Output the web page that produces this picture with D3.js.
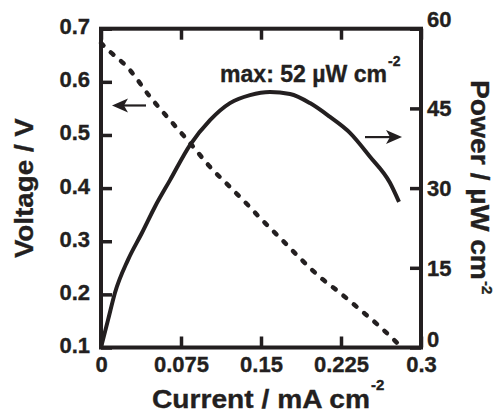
<!DOCTYPE html>
<html>
<head>
<meta charset="utf-8">
<script src="https://cdn.jsdelivr.net/npm/d3@7"></script>
<style>
  body { margin: 0; background: #fff; }
  text { font-family: "Liberation Sans", Arial, Helvetica, sans-serif; font-weight: bold; fill: #231f20; stroke: #231f20; stroke-width: 0.35px; }
</style>
</head>
<body>
<div id="chart"></div>
<script>
// current density (mA cm-2) vs cell voltage (V), dashed curve
const voltCurrent = [0, 0.0019, 0.0272, 0.0459, 0.0647, 0.0834, 0.1022, 0.1209, 0.1397, 0.149, 0.168, 0.1866, 0.205, 0.224, 0.243, 0.2616, 0.278];
const voltValues  = [0.673, 0.669, 0.622, 0.572, 0.528, 0.485, 0.440, 0.402, 0.364, 0.344, 0.306, 0.268, 0.233, 0.203, 0.171, 0.139, 0.108];

// current density vs power density (uW cm-2), solid curve
const powCurrent = [0, 0.0066, 0.0131, 0.0253, 0.0382, 0.0506, 0.0647, 0.0834, 0.1022, 0.1209, 0.1397, 0.1584, 0.1772, 0.1959, 0.2147, 0.2334, 0.2522, 0.2709, 0.2794];
const powValues  = [0, 5.2, 10.3, 16.5, 21.5, 26.5, 31.5, 38.1, 42.8, 46.0, 47.5, 48.1, 47.7, 46.0, 43.4, 40.4, 35.9, 31.0, 27.4];

const xTicks = [0, 0.075, 0.15, 0.225, 0.3];
const xTickLabels = ["0", "0.075", "0.15", "0.225", "0.3"];
const yLeftTicks = [0.1, 0.2, 0.3, 0.4, 0.5, 0.6, 0.7];
const yRightTicks = [0, 15, 30, 45, 60];

const W = 502, H = 413;
const margin = { top: 28.7, right: 81, bottom: 65.5, left: 101 };
const w = W - margin.left - margin.right;
const h = H - margin.top - margin.bottom;
const ink = "#231f20";

const svg = d3.select("#chart").append("svg")
  .attr("width", W).attr("height", H);

const g = svg.append("g")
  .attr("transform", `translate(${margin.left},${margin.top})`);

const x = d3.scaleLinear().domain([0, 0.3]).range([0, w]);
const yL = d3.scaleLinear().domain([0.1, 0.7]).range([h, 0]);
const yR = d3.scaleLinear().domain([0, 60]).range([h, 0]);

const tickLen = 11;

// axes (ticks pointing inward)
const styleAxis = sel => {
  sel.select(".domain").remove();
  sel.selectAll(".tick line").attr("stroke", ink).attr("stroke-width", 3.5);
  sel.selectAll(".tick text").attr("font-size", 22).attr("fill", ink);
};

g.append("g")
  .attr("transform", `translate(0,${h})`)
  .call(d3.axisBottom(x).tickValues(xTicks).tickFormat((d, i) => xTickLabels[i])
    .tickSize(-tickLen).tickSizeOuter(0))
  .call(styleAxis)
  .call(s => s.selectAll(".tick text").attr("y", 24.5).attr("dy", 0));

g.append("g")
  .call(d3.axisTop(x).tickValues(xTicks).tickFormat("").tickSize(-tickLen).tickSizeOuter(0))
  .call(styleAxis);

g.append("g")
  .call(d3.axisLeft(yL).tickValues(yLeftTicks).tickFormat(d3.format(".1f"))
    .tickSize(-tickLen).tickSizeOuter(0).tickPadding(11))
  .call(styleAxis)
  .call(s => s.selectAll(".tick text").attr("dy", 5));

g.append("g")
  .attr("transform", `translate(${w},0)`)
  .call(d3.axisRight(yR).tickValues(yRightTicks).tickFormat(d3.format("d"))
    .tickSize(-tickLen).tickSizeOuter(0).tickPadding(6))
  .call(styleAxis)
  .call(s => s.selectAll(".tick text").attr("dy", d => d === 60 ? -2 : d === 0 ? -1 : 7.5));

// frame
g.append("rect")
  .attr("width", w).attr("height", h)
  .attr("fill", "none").attr("stroke", ink).attr("stroke-width", 4);

// curves
const voltLine = d3.line()
  .x((d, i) => x(voltCurrent[i]))
  .y(d => yL(d))
  .curve(d3.curveMonotoneX);

const powLine = d3.line()
  .x((d, i) => x(powCurrent[i]))
  .y(d => yR(d))
  .curve(d3.curveMonotoneX);

g.append("path")
  .attr("d", powLine(powValues))
  .attr("fill", "none").attr("stroke", ink).attr("stroke-width", 4);

g.append("path")
  .attr("d", voltLine(voltValues))
  .attr("fill", "none").attr("stroke", ink).attr("stroke-width", 4.5)
  .attr("stroke-linecap", "round")
  .attr("stroke-dasharray", "3.5,10");

// arrows: tail x, tip x (in data units) and height on the matching axis
function arrow(x0, x1, yy) {
  const dir = Math.sign(x1 - x0);
  const back = x1 - dir * 16;
  const notch = x1 - dir * 12;
  g.append("line")
    .attr("x1", x0).attr("x2", notch).attr("y1", yy).attr("y2", yy)
    .attr("stroke", ink).attr("stroke-width", 2.2);
  g.append("path")
    .attr("d", `M${x1},${yy} L${back},${yy - 7} L${notch},${yy} L${back},${yy + 7} Z`)
    .attr("fill", ink);
}
arrow(x(0.0422), x(0.0103), yL(0.5555));
arrow(x(0.2475), x(0.2822), yR(39.6));

// annotation
g.append("text")
  .attr("x", 119).attr("y", 53.3).attr("font-size", 23)
  .attr("textLength", 167).attr("lengthAdjust", "spacingAndGlyphs")
  .text("max: 52 \u00b5W cm");
g.append("text")
  .attr("x", 119 + 168).attr("y", 37).attr("font-size", 14)
  .text("-2");

// axis titles
svg.append("text")
  .attr("x", 152).attr("y", 408).attr("font-size", 26)
  .attr("textLength", 218).attr("lengthAdjust", "spacingAndGlyphs")
  .text("Current / mA cm");
svg.append("text")
  .attr("x", 371).attr("y", 390).attr("font-size", 15)
  .text("-2");

svg.append("text")
  .attr("transform", `translate(33,${margin.top + h / 2}) rotate(-90)`)
  .attr("text-anchor", "middle").attr("font-size", 26)
  .attr("textLength", 140).attr("lengthAdjust", "spacingAndGlyphs")
  .text("Voltage / V");

svg.append("text")
  .attr("transform", "translate(471,80) rotate(90)")
  .attr("font-size", 26)
  .attr("textLength", 200).attr("lengthAdjust", "spacingAndGlyphs")
  .text("Power / \u00b5W cm");
svg.append("text")
  .attr("transform", "translate(482,281) rotate(90)")
  .attr("font-size", 15)
  .text("-2");
</script>
</body>
</html>
